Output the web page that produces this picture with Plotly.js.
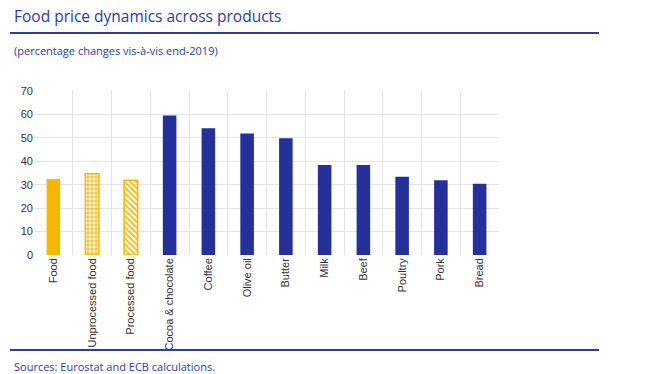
<!DOCTYPE html>
<html>
<head>
<meta charset="utf-8">
<script src="https://cdn.plot.ly/plotly-3.0.1.min.js"></script>
<style>html,body{margin:0;padding:0;background:#fff}#chart{width:656px;height:374px}</style>
</head>
<body>
<div id="chart"></div>
<script>
const categories = ["Food","Unprocessed food","Processed food","Cocoa & chocolate","Coffee","Olive oil","Butter","Milk","Beef","Poultry","Pork","Bread"];
const values = [32.4, 34.7, 31.9, 59.5, 54.1, 51.9, 49.8, 38.4, 38.4, 33.4, 31.9, 30.4];
const yTicks = [0,10,20,30,40,50,60,70];
const titleText = "Food price dynamics across products";
const subtitleText = "(percentage changes vis-à-vis end-2019)";
const sourceText = "Sources: Eurostat and ECB calculations.";

const W = 656, H = 374;
const L = 34, R = 499, T = 91, B = 255;
const px = x => (x - L) / (R - L);
const py = y => (B - y) / (B - T);

const gold = "#F5B700", navy = "#25309A", blue = "#2E3C9E";

const barColors = categories.map((c,i) => i < 3 ? gold : navy);
const lineWidths = categories.map((c,i) => (i === 1 || i === 2) ? 1.5 : 0);
const shapes = categories.map((c,i) => i === 1 ? "+" : (i === 2 ? "\\" : ""));
const bgColors = categories.map((c,i) => i === 1 ? "#FDF1CC" : (i < 3 ? "#ffffff" : navy));
const fgColors = categories.map((c,i) => i === 1 ? "#F8CF5A" : gold);

const trace = {
  type: "bar",
  x: categories,
  y: values,
  width: 0.35,
  marker: {
    color: barColors,
    line: {color: barColors, width: lineWidths},
    pattern: {shape: shapes, fgcolor: fgColors, bgcolor: bgColors, size: 4, solidity: 0.45, fillmode: "replace"}
  },
  hoverinfo: "none"
};

const layout = {
  width: W, height: H,
  margin: {l: L, r: W - R, t: T, b: H - B, pad: 0},
  paper_bgcolor: "#fff", plot_bgcolor: "#fff",
  showlegend: false,
  font: {family: "Liberation Sans, Arial, sans-serif", size: 11, color: "#333"},
  xaxis: {
    type: "category",
    tickson: "boundaries",
    showgrid: true, gridcolor: "#e3e3e3", gridwidth: 1,
    tickangle: -90, ticks: "", ticklen: 0,
    tickfont: {size: 11, color: "#333"},
    showline: false, zeroline: false, fixedrange: true
  },
  yaxis: {
    range: [0, 70], tickvals: yTicks,
    showgrid: true, gridcolor: "#e3e3e3", gridwidth: 1,
    zeroline: false, showline: false, ticks: "",
    tickfont: {size: 11, color: "#333"},
    fixedrange: true
  },
  shapes: [
    {type: "line", xref: "paper", yref: "paper", x0: px(10), x1: px(599), y0: py(33), y1: py(33), line: {color: blue, width: 2}},
    {type: "line", xref: "paper", yref: "paper", x0: px(10), x1: px(599), y0: py(350), y1: py(350), line: {color: blue, width: 2}}
  ],
  annotations: [
    {text: titleText, xref: "paper", yref: "paper", x: px(12), y: py(16), xanchor: "left", yanchor: "middle", showarrow: false,
     font: {family: "Open Sans, sans-serif", size: 15.5, color: blue}},
    {text: subtitleText, xref: "paper", yref: "paper", x: px(12), y: py(50), xanchor: "left", yanchor: "middle", showarrow: false,
     font: {family: "Open Sans, sans-serif", size: 11, color: blue}},
    {text: sourceText, xref: "paper", yref: "paper", x: px(12), y: py(366), xanchor: "left", yanchor: "middle", showarrow: false,
     font: {family: "Open Sans, sans-serif", size: 11, color: blue}}
  ]
};

Plotly.newPlot("chart", [trace], layout, {displayModeBar: false, staticPlot: true});
</script>
</body>
</html>
